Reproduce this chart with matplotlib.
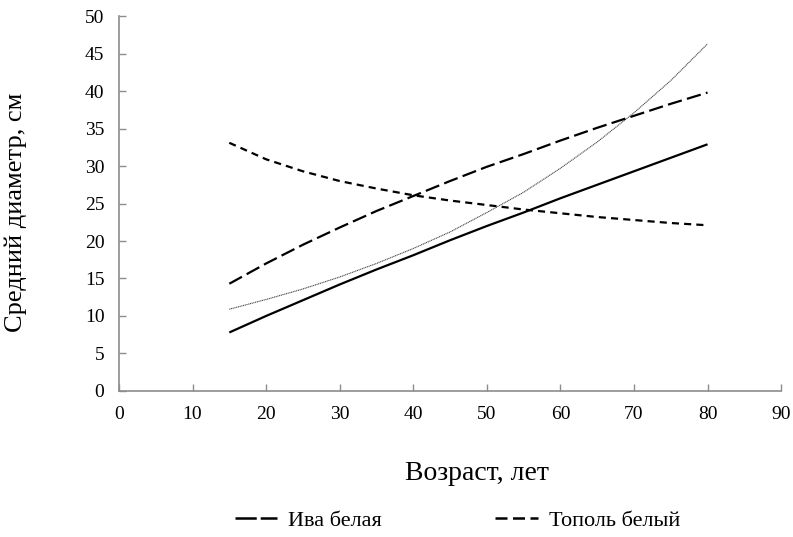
import matplotlib
matplotlib.use("Agg")
import matplotlib.pyplot as plt
from matplotlib.lines import Line2D

plt.rcParams['font.family'] = ['Liberation Serif', 'DejaVu Serif']

# Age, years
age = [15, 20, 25, 30, 35, 40, 45, 50, 55, 60, 65, 70, 75, 80]

# Mean diameter, cm
solid_trend = [7.8, 10.0, 12.1, 14.2, 16.2, 18.1, 20.1, 22.0, 23.8, 25.7, 27.5, 29.3, 31.1, 32.9]
dotted_trend = [10.9, 12.2, 13.6, 15.2, 17.0, 19.0, 21.2, 23.8, 26.5, 29.7, 33.2, 37.1, 41.4, 46.3]
iva_belaya = [14.3, 17.0, 19.5, 21.8, 24.0, 26.0, 28.0, 29.9, 31.6, 33.4, 35.1, 36.7, 38.3, 39.8]
topol_bely = [33.1, 30.9, 29.3, 28.0, 27.0, 26.1, 25.4, 24.8, 24.2, 23.7, 23.2, 22.8, 22.4, 22.1]

x_ticks = [0, 10, 20, 30, 40, 50, 60, 70, 80, 90]
y_ticks = [0, 5, 10, 15, 20, 25, 30, 35, 40, 45, 50]

fig = plt.figure(figsize=(7.93, 5.37), dpi=100)
ax = fig.add_axes([0.150, 0.272, 0.835, 0.698])

long_dash = (0, (6.5, 2.4))
short_dash = (0, (3.2, 2.3))

ax.plot(age, solid_trend, color='black', lw=1.6, solid_capstyle='butt')
ax.plot(age, dotted_trend, color='#444444', lw=0.8, linestyle=(0, (1, 0.6)))
ax.plot(age, iva_belaya, color='black', lw=1.6, linestyle=long_dash)
ax.plot(age, topol_bely, color='black', lw=1.6, linestyle=short_dash)

ax.set_xlim(0, 90)
ax.set_ylim(0, 50)
ax.set_xticks(x_ticks)
ax.set_yticks(y_ticks)

for side in ('top', 'right'):
    ax.spines[side].set_visible(False)
for side in ('left', 'bottom'):
    ax.spines[side].set_color('#8c8c8c')
    ax.spines[side].set_linewidth(1.2)

ax.tick_params(direction='in', length=5, width=1.0, color='#8c8c8c',
               labelsize=14, labelcolor='black', pad=10.5)

ax.set_xlabel('Возраст, лет', fontsize=20)
ax.set_ylabel('Средний диаметр, см', fontsize=19)
ax.xaxis.set_label_coords(0.541, -0.187)
ax.yaxis.set_label_coords(-0.139, 0.477)

handles = [
    Line2D([], [], color='black', lw=1.8, linestyle=(0, (8.5, 1.6))),
    Line2D([], [], color='black', lw=1.8, linestyle=(0, (4.8, 2.2))),
]
fig.legend(handles, ['Ива белая', 'Тополь белый'], loc='center',
           bbox_to_anchor=(0.577, 0.030), ncol=2, frameon=False,
           fontsize=16, handlelength=1.9, handletextpad=0.5, columnspacing=5.1)

fig.savefig('out.png', dpi=100)
